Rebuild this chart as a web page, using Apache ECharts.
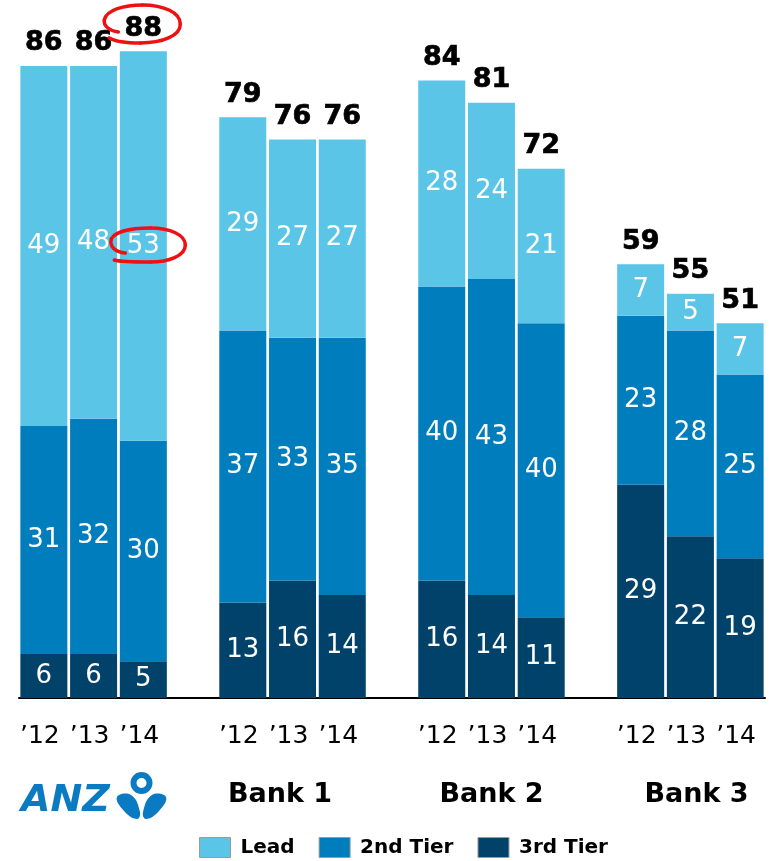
<!DOCTYPE html>
<html>
<head>
<meta charset="utf-8">
<script src="https://cdn.jsdelivr.net/npm/echarts@6/dist/echarts.min.js"></script>
<style>
html,body{margin:0;padding:0;background:#fff;}
#chart{width:773px;height:861px;}
</style>
</head>
<body>
<div id="chart"></div>
<script>
// ---- data ----
const categories = ['\u201912','\u201913','\u201914','', '\u201912','\u201913','\u201914','', '\u201912','\u201913','\u201914','', '\u201912','\u201913','\u201914'];
const tier3 = [6, 6, 5, '-', 13, 16, 14, '-', 16, 14, 11, '-', 29, 22, 19];
const tier2 = [31, 32, 30, '-', 37, 33, 35, '-', 40, 43, 40, '-', 23, 28, 25];
const lead  = [49, 48, 53, '-', 29, 27, 27, '-', 28, 24, 21, '-', 7, 5, 7];
const totals = [86, 86, 88, '-', 79, 76, 76, '-', 84, 81, 72, '-', 59, 55, 51];
const groupNames = ['Bank 1', 'Bank 2', 'Bank 3'];
const seriesNames = ['Lead', '2nd Tier', '3rd Tier'];

const C_LEAD = '#5BC5E8';
const C_2ND = '#007DBC';
const C_3RD = '#01426A';
const FONT = 'DejaVu Sans';

const chart = echarts.init(document.getElementById('chart'), null, {renderer: 'canvas'});

const insideLabel = {
  show: true, position: 'inside', color: '#fff',
  fontFamily: FONT, fontSize: 26, fontWeight: 'normal'
};

function barSeries(name, data, color) {
  return {
    name: name, type: 'bar', stack: 'all', data: data,
    barWidth: 47,
    itemStyle: {color: color},
    label: insideLabel,
    emphasis: {disabled: true}
  };
}

// zero-height carrier on top of each stack for the total label
const totalCarrier = totals.map(function (t) { return t === '-' ? '-' : 0; });

const option = {
  animation: false,
  backgroundColor: '#fff',
  grid: {left: 19, right: 8, top: 36.5, bottom: 163, containLabel: false},
  legend: {
    data: seriesNames,
    left: 199, top: 837, padding: 0,
    itemWidth: 31, itemHeight: 20, itemGap: 24,
    icon: 'rect',
    itemStyle: {borderColor: '#9a9a9a', borderWidth: 1},
    textStyle: {fontFamily: FONT, fontSize: 20, fontWeight: 'bold', color: '#000', padding: [0, 0, 0, 5]}
  },
  xAxis: {
    type: 'category', data: categories,
    axisLine: {show: true, lineStyle: {color: '#000', width: 2}},
    axisTick: {show: false},
    axisLabel: {
      interval: 0, margin: 26, color: '#000',
      fontFamily: FONT, fontSize: 25, padding: [0, 8, 0, 0]
    },
    splitLine: {show: false}
  },
  yAxis: {
    type: 'value', min: 0, max: 90, show: false,
    splitLine: {show: false}
  },
  series: [
    barSeries('3rd Tier', tier3, C_3RD),
    barSeries('2nd Tier', tier2, C_2ND),
    barSeries('Lead', lead, C_LEAD),
    {
      name: 'Total', type: 'bar', stack: 'all', data: totalCarrier,
      barWidth: 47,
      itemStyle: {color: 'rgba(0,0,0,0)'},
      label: {
        show: true, position: 'top', distance: 9, color: '#000', opacity: 1,
        fontFamily: FONT, fontSize: 27, fontWeight: 'bold',
        textBorderColor: '#000', textBorderWidth: 0.7,
        formatter: function (p) { return String(totals[p.dataIndex]); }
      },
      emphasis: {disabled: true}, z: 5
    }
  ]
};
chart.setOption(option);

// ---- annotations: group labels, logo, red loops ----
const groupX = [280, 491.5, 696.5];
const graphics = [];
groupNames.forEach(function (g, i) {
  graphics.push({
    type: 'text', x: groupX[i], y: 795,
    style: {text: g, fill: '#000', font: 'bold 27px "DejaVu Sans"', textAlign: 'center', textVerticalAlign: 'middle'}
  });
});

// ANZ logo (drawn)
const LOGO = '#0A7BC2';
graphics.push({
  type: 'text', x: 21, y: 801,
  style: {text: 'ANZ', fill: LOGO, font: 'italic bold 38px "DejaVu Sans"', textAlign: 'left', textVerticalAlign: 'middle'}
});
graphics.push({type: 'ring', shape: {cx: 141.5, cy: 783, r: 11, r0: 5}, style: {fill: LOGO}});
graphics.push({type: 'polygon', shape: {points: [[117, 797], [131, 795], [140, 812], [137, 819], [124, 811]], smooth: 0.45}, style: {fill: LOGO}});
graphics.push({type: 'polygon', shape: {points: [[166, 797], [152, 795], [143, 812], [146, 819], [159, 811]], smooth: 0.45}, style: {fill: LOGO}});

// red hand-drawn loops anchored to ANZ '14 bar
const a1 = chart.convertToPixel({gridIndex: 0}, [2, totals[2]]);
const a2 = chart.convertToPixel({gridIndex: 0}, [2, tier3[2] + tier2[2] + lead[2] / 2]);
function loop(anchor, ref, segs) {
  const dx = anchor[0] - ref[0], dy = anchor[1] - ref[1];
  segs.forEach(function (s) {
    graphics.push({
      type: 'bezierCurve',
      shape: {x1: s[0] + dx, y1: s[1] + dy, cpx1: s[2] + dx, cpy1: s[3] + dy, cpx2: s[4] + dx, cpy2: s[5] + dy, x2: s[6] + dx, y2: s[7] + dy},
      style: {stroke: '#EE1111', lineWidth: 3.5, fill: null, lineCap: 'round'}, z: 100
    });
  });
}
loop(a1, [143, 51.3], [
  [118, 32, 109, 31, 103, 26, 104, 20],
  [104, 20, 106, 10, 124, 5, 142, 5],
  [142, 5, 164, 5, 180, 13, 180, 24],
  [180, 24, 180, 36, 162, 43, 140, 43],
  [140, 43, 125, 43, 114, 41, 109, 38]
]);
loop(a2, [143, 246], [
  [125, 253, 114, 252, 109, 246, 111, 239],
  [111, 239, 115, 231, 132, 228, 150, 228],
  [150, 228, 170, 228, 185, 235, 185, 245],
  [185, 245, 185, 256, 168, 262, 150, 262],
  [150, 262, 134, 262, 120, 262, 114, 260]
]);

chart.setOption({graphic: {elements: graphics}});
</script>
</body>
</html>
